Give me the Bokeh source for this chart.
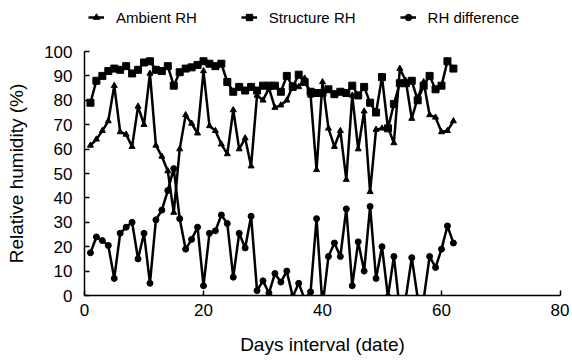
from bokeh.plotting import figure
from bokeh.models import Range1d, FixedTicker, Legend, LegendItem
from bokeh.layouts import column
from bokeh.embed import file_html
from bokeh.resources import INLINE

days = list(range(1, 63))
structure_rh = [79, 88, 90, 92, 93, 92.5, 94, 91, 92.5, 95.5,
                96, 92.5, 92, 94, 86, 91.5, 93, 93.5, 94.5, 96,
                95, 94, 95, 87.5, 83.5, 85.5, 84, 85.5, 84, 86,
                86, 86, 83.5, 90, 85.5, 90.5, 87.5, 83.5, 83, 83,
                84.5, 82.5, 83.5, 83, 86, 82, 85.5, 79, 75, 89.5,
                68.5, 78.5, 87, 87, 88, 80, 86, 90, 84.5, 86,
                96, 93]
ambient_rh = [61.5, 64, 67.5, 71.5, 86, 67, 66, 61, 77.5, 70,
              91, 61.5, 57, 51, 34, 60, 74, 70.5, 66.5, 92,
              69.5, 67.5, 62, 58, 76, 60, 64.5, 53, 82, 80,
              85, 77, 78, 80, 86, 85.5, 89, 82, 51.5, 87.5,
              68.5, 61, 67.5, 47.5, 82, 60, 75.5, 42.5, 68, 68.5,
              69, 62.5, 93, 88, 72.5, 81, 87.5, 74, 73, 67,
              67.5, 71.5]
rh_difference = [17.5, 24, 22.5, 20.5, 7, 25.5, 28, 30, 15, 25.5,
                 5, 31, 35, 43, 52, 31.5, 19, 23, 28, 4,
                 25.5, 26.5, 33, 29.5, 7.5, 25.5, 19.5, 32.5, 2, 6,
                 1, 9, 5.5, 10, -0.5, 5, -1.5, 1.5, 31.5, -4.5,
                 16, 21.5, 16, 35.5, 4, 22, 10, 36.5, 7, 20,
                 -0.5, 16, -6, -1, 15.5, -1, -1.5, 16, 11.5, 19,
                 28.5, 21.5]
series_names = ["Ambient RH", "Structure RH", "RH difference"]
series_markers = ["triangle", "square", "circle"]
x_ticks = [0, 20, 40, 60, 80]
y_ticks = [0, 10, 20, 30, 40, 50, 60, 70, 80, 90, 100]

FONT = "Liberation Sans"
LW = 2.5
MK_SIZE = {"triangle": 6, "square": 7, "circle": 6}
series_values = [ambient_rh, structure_rh, rh_difference]

BL, BR = 84, 9

# ---------- main chart ----------
p = figure(frame_width=476, frame_height=244, output_backend="svg", toolbar_location=None,
           x_range=Range1d(0, 80), y_range=Range1d(0, 100),
           min_border_left=BL, min_border_right=BR, min_border_top=17, min_border_bottom=65)
p.outline_line_color = None
p.xgrid.visible = False
p.ygrid.visible = False
p.background_fill_color = "white"
p.border_fill_color = "white"

for ax in (p.xaxis[0], p.yaxis[0]):
    ax.axis_line_color = "black"
    ax.axis_line_width = 1.5
    ax.major_tick_line_color = "black"
    ax.major_tick_line_width = 1.5
    ax.major_tick_in = 5
    ax.major_tick_out = 0
    ax.minor_tick_line_color = None
    ax.major_label_text_font = FONT
    ax.major_label_text_font_size = "17px"
    ax.major_label_text_color = "black"
    ax.axis_label_text_font = FONT
    ax.axis_label_text_font_size = "19px"
    ax.axis_label_text_font_style = "normal"
    ax.axis_label_text_color = "black"

p.xaxis[0].ticker = FixedTicker(ticks=x_ticks)
p.yaxis[0].ticker = FixedTicker(ticks=y_ticks)
p.xaxis[0].axis_label = "Days interval (date)"
p.yaxis[0].axis_label = "Relative humidity (%)"
p.xaxis[0].major_label_standoff = 8
p.yaxis[0].major_label_standoff = 12
p.xaxis[0].axis_label_standoff = 15
p.yaxis[0].axis_label_standoff = 14

for vals, mk in zip(series_values, series_markers):
    p.line(days, vals, line_color="black", line_width=LW)
    p.scatter(days, vals, marker=mk, size=MK_SIZE[mk], color="black")

# ---------- legend strip (series drawn off-range, only their legend shows) ----------
lg = figure(frame_width=476, height=34, output_backend="svg", toolbar_location=None,
            x_range=Range1d(-2, -1), y_range=Range1d(-2, -1),
            x_axis_location=None, y_axis_location=None,
            min_border_left=BL, min_border_right=BR, min_border_top=0, min_border_bottom=0)
lg.xgrid.visible = False
lg.ygrid.visible = False
lg.outline_line_color = None
lg.background_fill_color = "white"
lg.border_fill_color = "white"

items = []
for name, vals, mk in zip(series_names, series_values, series_markers):
    r1 = lg.line(days, vals, line_color="black", line_width=LW)
    r2 = lg.scatter(days, vals, marker=mk, size=MK_SIZE[mk], color="black")
    items.append(LegendItem(label=name, renderers=[r1, r2]))

legend = Legend(items=items, orientation="horizontal", location=(4, 8))
legend.label_text_font = FONT
legend.label_text_font_size = "15px"
legend.label_text_color = "black"
legend.glyph_width = 16
legend.glyph_height = 18
legend.label_height = 18
legend.label_standoff = 12
legend.spacing = 44
legend.padding = 0
legend.margin = 0
legend.border_line_color = None
legend.background_fill_alpha = 0
lg.add_layout(legend, "center")

layout = column(lg, p, spacing=0)
open("out.html", "w").write(file_html(layout, INLINE))
